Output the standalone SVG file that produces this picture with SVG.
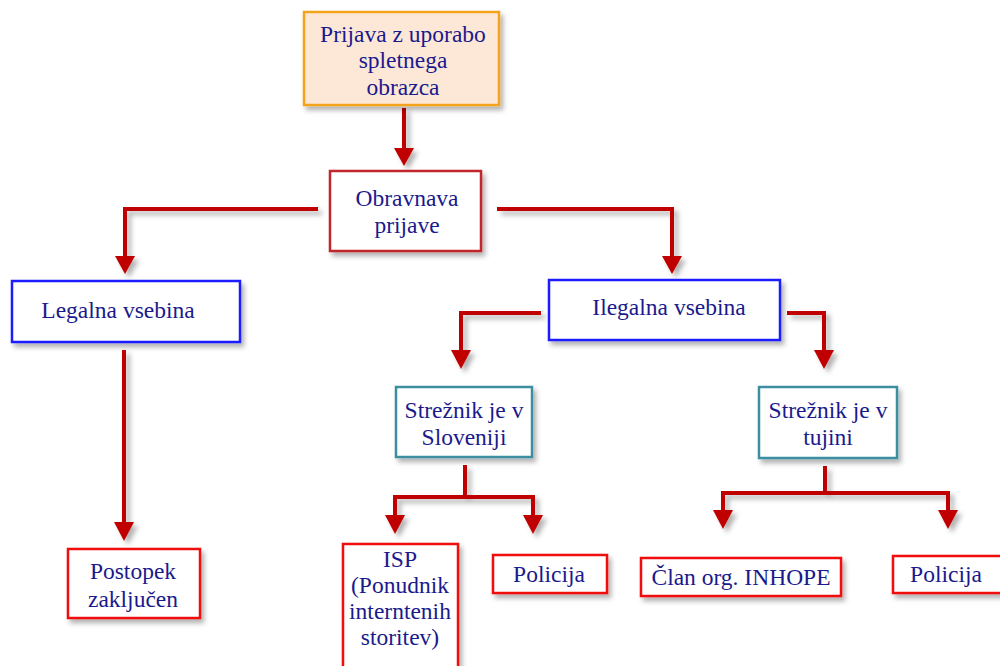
<svg xmlns="http://www.w3.org/2000/svg" width="1000" height="666" viewBox="0 0 1000 666">
<defs>
<filter id="sh" x="-20%" y="-20%" width="150%" height="150%">
<feDropShadow dx="3" dy="4" stdDeviation="2.5" flood-color="#000" flood-opacity="0.3"/>
</filter>
<filter id="shc" filterUnits="userSpaceOnUse" x="0" y="0" width="1000" height="666">
<feDropShadow dx="4" dy="4" stdDeviation="2.5" flood-color="#000" flood-opacity="0.3"/>
</filter>
<style>
text{font-family:"Liberation Serif","Times New Roman",serif;font-size:23.5px;fill:#1a1a8c;text-anchor:middle}
.box{fill:#fff;stroke-width:2.5;filter:url(#sh)}
.org{fill:#fde8d8;stroke:#f5a21d}
.drk{stroke:#c0262c}
.blu{stroke:#1a1aff}
.teal{stroke:#3a8fa0}
.red{stroke:#f01010}
.con{filter:url(#shc)}
.con path{fill:none;stroke:#c00000;stroke-width:4}
.hd{fill:#c00000;stroke:none}
</style>
</defs>
<g class="con">
<path d="M404,108 V150"/>
<path d="M318,209 H125 V258"/>
<path d="M497,209 H672 V258"/>
<path d="M124,350 V524"/>
<path d="M541,313 H461 V352"/>
<path d="M787,313 H824 V352"/>
<path d="M465,465 V497 M395,497 H533 M395,495 V517 M533,495 V517"/>
<path d="M825,466 V493 M723,493 H948 M723,491 V512 M948,491 V512"/>
<polygon class="hd" points="394,148 414,148 404,166"/>
<polygon class="hd" points="115,256 135,256 125,274"/>
<polygon class="hd" points="662,256 682,256 672,274"/>
<polygon class="hd" points="114,522 134,522 124,541"/>
<polygon class="hd" points="451,350 471,350 461,369"/>
<polygon class="hd" points="814,350 834,350 824,369"/>
<polygon class="hd" points="385,515 405,515 395,534"/>
<polygon class="hd" points="523,515 543,515 533,534"/>
<polygon class="hd" points="713,510 733,510 723,529"/>
<polygon class="hd" points="938,510 958,510 948,529"/>
</g>
<g id="n-prijava">
<rect class="box org" x="304" y="12" width="195" height="93"/>
<text x="403" y="42">Prijava z uporabo</text>
<text x="403" y="68">spletnega</text>
<text x="403" y="95">obrazca</text>
</g>
<g id="n-obravnava">
<rect class="box drk" x="330" y="171" width="151" height="80"/>
<text x="407" y="206">Obravnava</text>
<text x="407" y="233">prijave</text>
</g>
<g id="n-legalna">
<rect class="box blu" x="12" y="281" width="228" height="61"/>
<text x="118" y="318">Legalna vsebina</text>
</g>
<g id="n-ilegalna">
<rect class="box blu" x="549" y="280" width="231" height="60"/>
<text x="669" y="315">Ilegalna vsebina</text>
</g>
<g id="n-slo">
<rect class="box teal" x="396" y="387" width="136" height="70"/>
<text x="464" y="418">Strežnik je v</text>
<text x="464" y="445">Sloveniji</text>
</g>
<g id="n-tujina">
<rect class="box teal" x="759" y="387" width="138" height="71"/>
<text x="828" y="418">Strežnik je v</text>
<text x="828" y="445">tujini</text>
</g>
<g id="n-postopek">
<rect class="box red" x="68" y="549" width="132" height="69"/>
<text x="133" y="579">Postopek</text>
<text x="133" y="607">zaključen</text>
</g>
<g id="n-isp">
<rect class="box red" x="343" y="544" width="115" height="130"/>
<text x="400" y="567">ISP</text>
<text x="400" y="593">(Ponudnik</text>
<text x="400" y="619">interntenih</text>
<text x="400" y="645">storitev)</text>
</g>
<g id="n-policija1">
<rect class="box red" x="493" y="555" width="114" height="38"/>
<text x="549" y="582">Policija</text>
</g>
<g id="n-clan">
<rect class="box red" x="641" y="558" width="200" height="38"/>
<text x="741" y="585">Član org. INHOPE</text>
</g>
<g id="n-policija2">
<rect class="box red" x="893" y="556" width="112" height="37"/>
<text x="946" y="582">Policija</text>
</g>
</svg>
